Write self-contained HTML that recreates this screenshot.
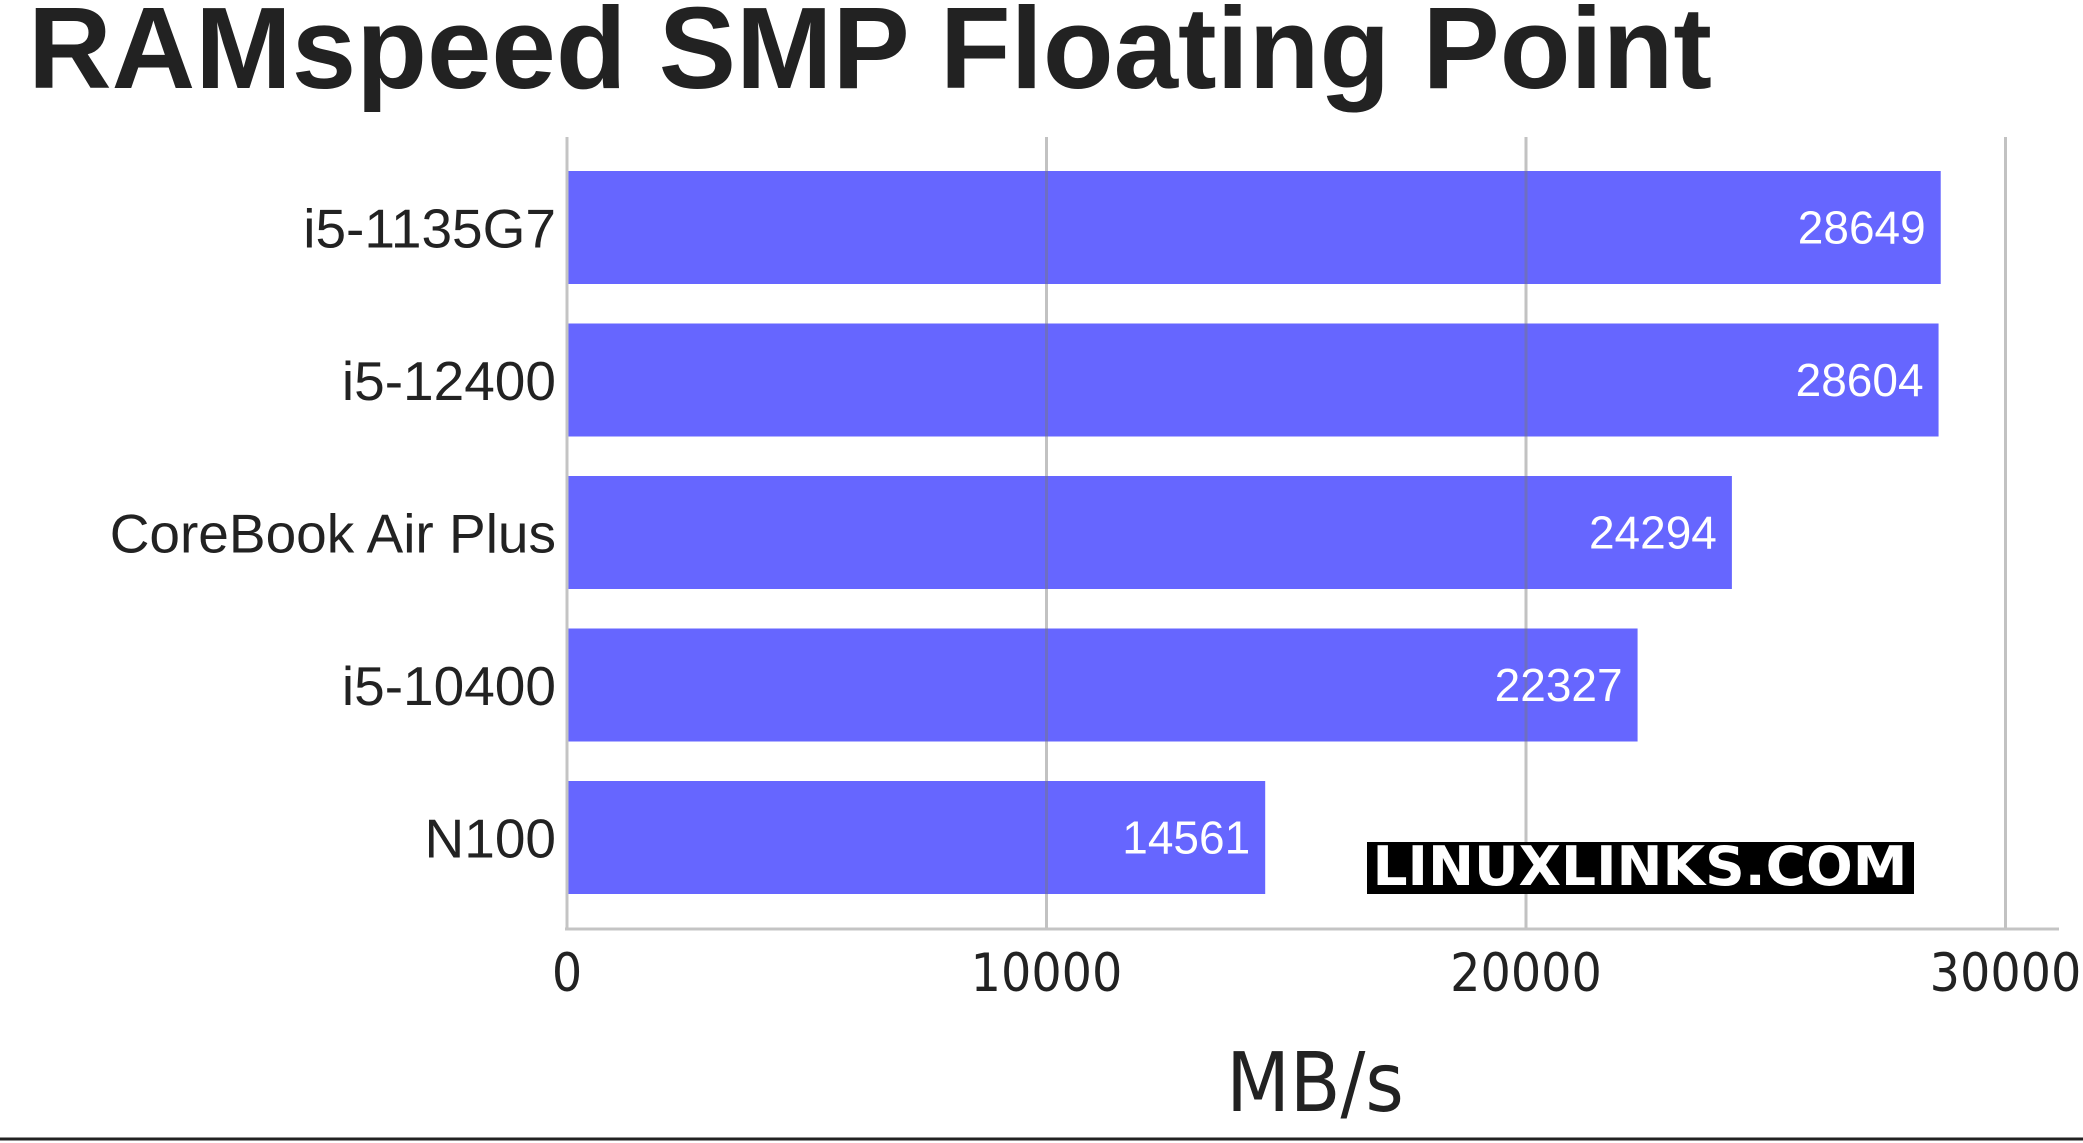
<!DOCTYPE html>
<html><head><meta charset="utf-8"><style>
body{margin:0;background:#fff;}
svg{display:block;}
</style></head><body>
<svg id="chart" width="2083" height="1143" viewBox="0 0 2083 1143" xmlns="http://www.w3.org/2000/svg">
<text x="28" y="88" font-family="Liberation Sans, sans-serif" font-weight="bold" font-size="116" fill="#222" textLength="1684" lengthAdjust="spacingAndGlyphs">RAMspeed SMP Floating Point</text>
<g id="bars"></g>
<g id="grid"></g>
<g id="labels"></g>
<g>
<rect x="1367" y="842" width="547" height="52" fill="#000"/>
<text x="1640" y="885" text-anchor="middle" font-family="DejaVu Sans Condensed, DejaVu Sans, sans-serif" font-weight="bold" font-size="54" fill="#fff" textLength="535" lengthAdjust="spacingAndGlyphs">LINUXLINKS.COM</text>
</g>
<text x="1315" y="1111" text-anchor="middle" font-family="DejaVu Sans Condensed, DejaVu Sans, sans-serif" font-size="82" fill="#222">MB/s</text>
<line x1="0" y1="1139" x2="2083" y2="1139" stroke="#222" stroke-width="3"/>
</svg>
<script>
const categories = ["i5-1135G7","i5-12400","CoreBook Air Plus","i5-10400","N100"];
const values = [28649,28604,24294,22327,14561];
const ticks = [0,10000,20000,30000];
const tickLabels = ["0","10000","20000","30000"];
const NS="http://www.w3.org/2000/svg";
const x0=567, pxPer=479.5/10000;
const xs=v=>x0+v*pxPer;
const bandTop=171, pitch=152.5, barH=113;
function mk(t,a,p){const e=document.createElementNS(NS,t);for(const k in a)e.setAttribute(k,a[k]);p.appendChild(e);return e;}
const bars=document.getElementById('bars'),grid=document.getElementById('grid'),labels=document.getElementById('labels');
values.forEach((v,i)=>{
  const y=bandTop+i*pitch;
  const r=mk('rect',{x:x0,y:y,width:xs(v)-x0,height:barH,fill:'#6666ff'},bars);
  
  
  const vt=mk('text',{x:xs(v)-15,y:y+barH/2+16,'text-anchor':'end','font-family':'Liberation Sans, sans-serif','font-size':'46',fill:'#fff'},labels);
  vt.textContent=v;
  
  
  const ct=mk('text',{x:556,y:y+barH/2+20,'text-anchor':'end','font-family':'Liberation Sans, sans-serif','font-size':'55',fill:'#222'},labels);
  ct.textContent=categories[i];
  
  
});
ticks.forEach((t,i)=>{
  const x=xs(t);
  const g=mk('line',{x1:x,y1:137,x2:x,y2:928,stroke:'rgba(120,120,120,0.45)','stroke-width':3},grid);
  
  
  const tl=mk('text',{x:x,y:991,'text-anchor':'middle','font-family':'DejaVu Sans Condensed, DejaVu Sans, sans-serif','font-size':'53',fill:'#222'},labels);
  tl.textContent=tickLabels[i];
  
  
});
const ax=mk('line',{x1:x0-2,y1:929,x2:2059,y2:929,stroke:'#c4c4c4','stroke-width':3},grid);


const ay=mk('line',{x1:x0,y1:137,x2:x0,y2:929,stroke:'#c4c4c4','stroke-width':3},grid);


</script>
</body></html>
